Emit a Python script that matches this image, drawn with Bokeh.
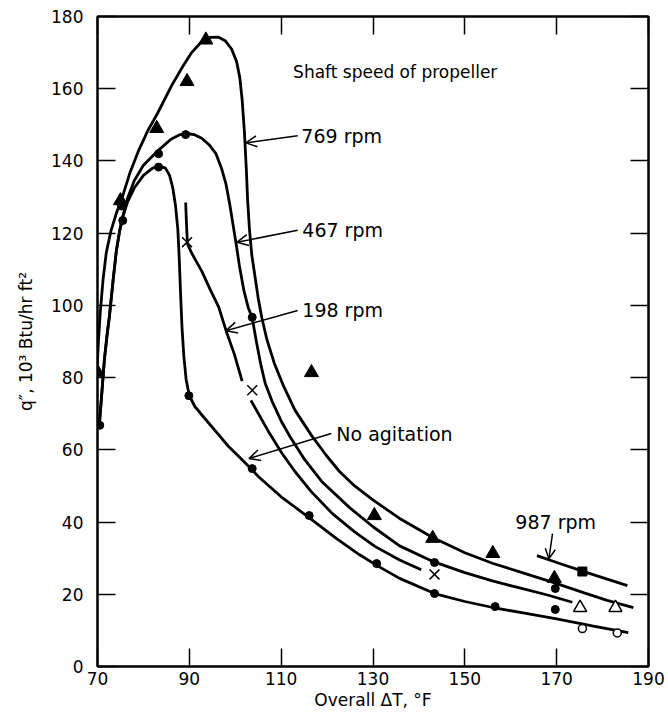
from bokeh.plotting import figure
from bokeh.models import Range1d, LinearAxis, FixedTicker, Arrow, OpenHead, Label
from bokeh.embed import file_html
from bokeh.resources import INLINE

# ---------------- data ----------------
x_ticks = [70, 90, 110, 130, 150, 170, 190]
y_ticks = [0, 20, 40, 60, 80, 100, 120, 140, 160, 180]

# 769 rpm curve
c769_x = [69.9, 70.2, 70.6, 71.2, 71.9, 72.9, 74.1, 75.3, 77.0, 79.0, 81.0, 83.0, 86.2, 88.5, 90.5,
          92.5, 94.5, 96.3, 97.8, 99.2, 100.3, 101.0, 101.5, 102.0, 102.4, 102.7, 103.1, 103.6,
          104.3, 105.0, 105.8, 106.9, 108.5, 110.4, 113.0, 116.6, 119.8, 122.7, 126.0, 129.9,
          135.8, 143.0, 150.0, 156.0, 163.0, 169.2, 176.0, 181.0, 186.7]
c769_y = [82, 90, 98, 107, 114.5, 120.5, 125.5, 129.5, 136.5, 143, 148.5, 153, 161, 166, 170,
          172.8, 174.2, 174.3, 173.3, 171, 167.5, 163, 157, 148, 138, 129, 121, 114,
          108, 102, 96.5, 90.5, 84, 78, 71, 64, 58.5, 54, 50, 46.2,
          41, 35.7, 31.5, 28.6, 25.8, 23.3, 20.4, 18.3, 16.3]

# 467 rpm curve
c467_x = [70.4, 70.9, 71.5, 72.1, 72.6, 73.4, 74.1, 74.8, 75.5, 76.5, 78.0, 80.0, 83.3, 86.0, 88.0,
          89.5, 91.0, 92.7, 94.3, 95.8, 97.0, 98.0, 98.8, 99.5, 100.2, 100.9, 101.9, 102.8, 103.7,
          104.6, 105.5, 106.5, 108.0, 110.0, 112.0, 115.0, 119.0, 124.9, 130.0, 135.8, 142.8,
          150.0, 156.0, 163.0, 168.0, 173.4]
c467_y = [67, 75, 85, 92, 97, 107, 115, 120.5, 124.5, 129.5, 134.5, 138.8, 143, 146, 147.3,
          147.6, 147.3, 146.3, 144.5, 142, 138, 133.5, 128, 122.5, 117, 111, 104, 99.5, 96.5,
          90, 84, 78.5, 73.5, 68, 63.5, 57.5, 51, 44, 38.7, 33.4, 29.2,
          26.0, 23.7, 21.4, 19.8, 17.8]

# 198 rpm curve (two pieces, broken at a data mark)
c198a_x = [89.2, 89.4, 89.6, 90.5, 92.7, 94.5, 96.4, 98.0, 99.8, 101.5]
c198a_y = [128.5, 122, 117, 114.5, 109.5, 104.5, 99.5, 93, 86.5, 79]
c198b_x = [103.4, 105.5, 107.5, 110.2, 113.0, 116.5, 121.1, 126.0, 130.5, 135.8, 140.5]
c198b_y = [73.7, 69, 64.5, 59, 54, 48.5, 42.4, 37.3, 33.2, 29.5, 26.8]

# No agitation curve
cna_x = [70.4, 70.9, 71.5, 72.1, 72.6, 73.4, 74.1, 74.8, 75.5, 76.5, 78.0, 80.0, 82.0, 83.5, 84.8,
         85.7, 86.4, 87.0, 87.5, 87.8, 88.1, 88.4, 88.8, 89.3, 90.0, 91.2, 92.5, 94.3, 96.5, 98.5,
         100.5, 102.3, 105.2, 110.0, 116.0, 122.0, 127.0, 130.8, 135.8, 143.4, 150.0, 156.6,
         163.0, 170.0, 178.0, 185.6]
cna_y = [67, 75, 85, 92, 97, 107, 115, 120.5, 124.5, 128.5, 132.5, 136, 138, 138.6, 138,
         136, 132.5, 127.5, 121, 113, 103, 94, 86, 79.5, 75, 72, 70, 67.3, 64, 61,
         58.5, 56.2, 52.4, 47.0, 41.3, 35.5, 31.0, 28.0, 24.4, 20.2, 18.0, 16.2,
         14.8, 13.2, 11.2, 9.4]

# 987 rpm curve
c987_x = [165.7, 170.5, 175.6, 180.5, 185.4]
c987_y = [30.7, 28.6, 26.4, 24.4, 22.4]

# data points
tri_x = [70.0, 75.0, 82.9, 89.5, 93.6, 116.6, 130.3, 143.0, 156.1, 169.5]
tri_y = [81.5, 129.0, 149.0, 162.0, 173.5, 81.4, 41.8, 35.5, 31.3, 24.4]
circ_x = [70.5, 75.5, 75.2, 83.3, 83.3, 89.2, 89.9, 103.7, 103.7, 116.1, 130.8, 143.4, 143.4,
          156.6, 169.7, 169.7]
circ_y = [66.8, 123.5, 127.5, 142.0, 138.3, 147.3, 75.0, 96.7, 54.8, 41.8, 28.5, 28.8, 20.2,
          16.6, 21.6, 15.8]
cross_x = [89.5, 103.7, 143.4]
cross_y = [117.5, 76.5, 25.5]
otri_x = [175.1, 182.8]
otri_y = [16.3, 16.3]
ocirc_x = [175.6, 183.2]
ocirc_y = [10.5, 9.3]
sq_x = [175.6]
sq_y = [26.3]

# ---------------- figure ----------------
FONT = "DejaVu Sans"
p = figure(width=668, height=713, output_backend="svg", toolbar_location=None,
           x_range=Range1d(70, 190), y_range=Range1d(0, 180),
           min_border_left=97, min_border_right=20, min_border_top=16, min_border_bottom=47)
p.grid.visible = False
p.outline_line_color = "black"
p.outline_line_width = 2
p.background_fill_color = "white"
p.border_fill_color = "white"

for ax in (p.xaxis[0], p.yaxis[0]):
    ax.major_tick_in = 18
    ax.major_tick_out = 0
    ax.minor_tick_line_color = None
    ax.axis_line_width = 2
    ax.major_tick_line_width = 1.5
    ax.major_label_text_font = FONT
    ax.major_label_text_font_size = "17px"
    ax.major_label_text_color = "black"
    ax.axis_label_text_font = FONT
    ax.axis_label_text_font_size = "17px"
    ax.axis_label_text_font_style = "normal"
    ax.axis_label_text_color = "black"

p.xaxis[0].ticker = FixedTicker(ticks=x_ticks)
p.yaxis[0].ticker = FixedTicker(ticks=y_ticks)
p.xaxis[0].major_label_standoff = 5
p.xaxis[0].axis_label_standoff = 2
p.yaxis[0].major_label_standoff = 14
p.yaxis[0].axis_label_standoff = 12
p.xaxis[0].axis_label = "Overall ΔT, °F"
p.yaxis[0].axis_label = "q″, 10³ Btu/hr ft²"

# frame ticks on the top and right sides (no labels drawn)
for loc, ticks in (("above", x_ticks), ("right", y_ticks)):
    ax = LinearAxis(ticker=FixedTicker(ticks=ticks), major_label_text_font_size="1px",
                    major_label_text_color=None, major_label_standoff=0,
                    major_tick_in=18, major_tick_out=0,
                    minor_tick_line_color=None, axis_line_width=2, major_tick_line_width=1.5)
    p.add_layout(ax, loc)

LW = 2.8
p.line(c769_x, c769_y, line_color="black", line_width=LW)
p.line(c467_x, c467_y, line_color="black", line_width=LW)
p.line(c198a_x, c198a_y, line_color="black", line_width=LW)
p.line(c198b_x, c198b_y, line_color="black", line_width=LW)
p.line(cna_x, cna_y, line_color="black", line_width=LW)
p.line(c987_x, c987_y, line_color="black", line_width=LW)

p.scatter(tri_x, tri_y, marker="triangle", size=14, fill_color="black", line_color="black")
p.scatter(circ_x, circ_y, marker="circle", size=8, fill_color="black", line_color="black")
p.scatter(cross_x, cross_y, marker="x", size=14, line_color="black", line_width=1.5)
p.scatter(otri_x, otri_y, marker="triangle", size=13, fill_color="white", line_color="black",
          line_width=1.5)
p.scatter(ocirc_x, ocirc_y, marker="circle", size=8, fill_color="white", line_color="black",
          line_width=1.5)
p.scatter(sq_x, sq_y, marker="square", size=9, fill_color="black", line_color="black")

# annotations: (text, text x, text y, arrow start, arrow tip)
notes = [
    ("769 rpm", 114.4, 147.0, (113.6, 147.0), (102.3, 145.0)),
    ("467 rpm", 114.6, 120.8, (113.6, 120.8), (100.4, 117.5)),
    ("198 rpm", 114.6, 98.6, (113.6, 98.6), (98.0, 93.0)),
    ("No agitation", 122.0, 64.5, (120.9, 64.5), (103.0, 57.6)),
]
for txt, tx, ty, (sx, sy), (ex, ey) in notes:
    p.add_layout(Label(x=tx, y=ty, text=txt, text_font=FONT, text_font_size="19px",
                       text_baseline="middle", text_align="left", text_color="black"))
    p.add_layout(Arrow(x_start=sx, y_start=sy, x_end=ex, y_end=ey, line_width=1.5,
                       end=OpenHead(size=11, line_width=1.5)))

p.add_layout(Label(x=161.0, y=39.9, text="987 rpm", text_font=FONT, text_font_size="19px",
                   text_baseline="middle", text_align="left", text_color="black"))
p.add_layout(Arrow(x_start=169.1, y_start=36.8, x_end=168.3, y_end=29.8, line_width=1.5,
                   end=OpenHead(size=10, line_width=1.5)))
p.add_layout(Label(x=112.6, y=164.5, text="Shaft speed of propeller", text_font=FONT,
                   text_font_size="17px", text_baseline="middle", text_align="left",
                   text_color="black"))

open("out.html", "w").write(file_html(p, INLINE))
